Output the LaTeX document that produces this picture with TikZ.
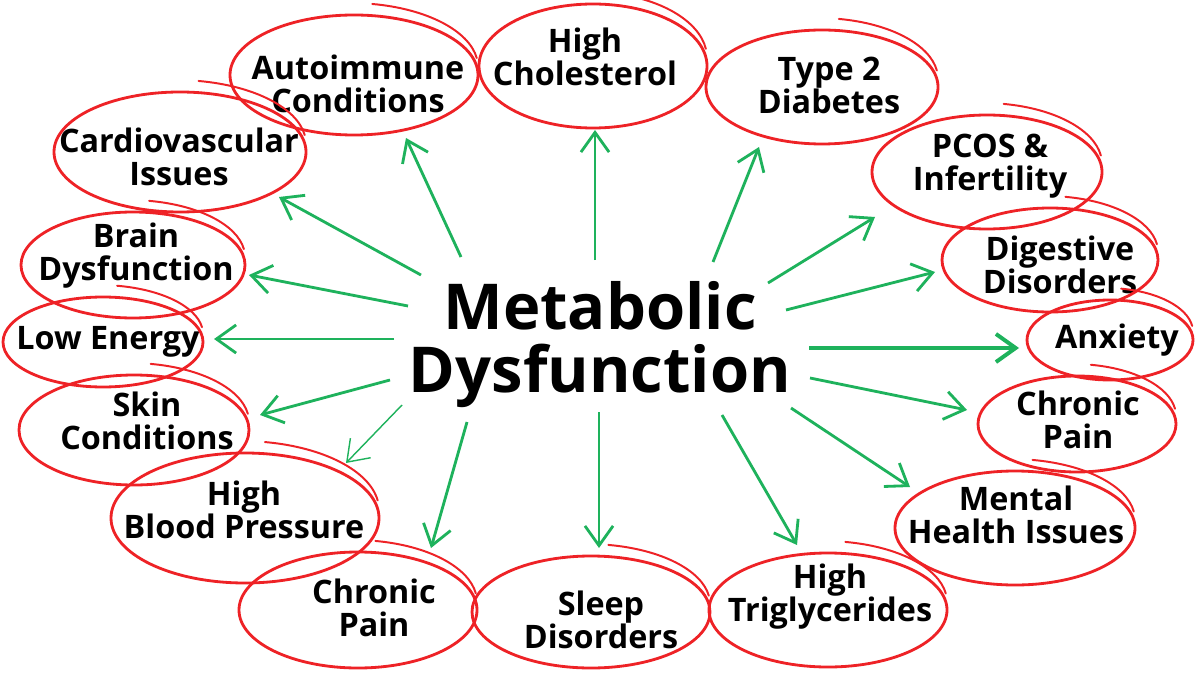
\documentclass[tikz,border=0pt]{standalone}
\usepackage{fontspec}
\setmainfont{Open Sans}
\usetikzlibrary{positioning,arrows.meta,calc}
\definecolor{ringred}{RGB}{238,34,38}
\definecolor{arrgreen}{RGB}{30,178,92}
\tikzset{
  ring/.style={draw=ringred,line width=2pt},
  tail/.style={draw=ringred,line width=1.4pt,line cap=round},
  issue/.style={align=center,inner sep=0pt,font=\bfseries\fontsize{23}{23.5}\selectfont},
  title/.style={align=center,inner sep=0pt,font=\bfseries\fontsize{45}{44.8}\selectfont},
  arrow/.style={-{Straight Barb[length=14pt,width=20pt]},draw=arrgreen,line width=2pt}
}
% red hand drawn ring round a label: node, centre shift, radii
\newcommand{\ringat}[5]{%
  \draw[ring] ($(#1)+(#2,#3)$) ellipse [x radius=#4, y radius=#5];
  \pgfmathsetmacro{\trx}{#4+4}\pgfmathsetmacro{\try}{#5+4}
  \draw[tail] ($(#1)+(#2,#3)+(-4,-8)$) ++({\trx*cos(-80)},{\try*sin(-80)})
    arc [start angle=-80, end angle=-8, x radius=\trx, y radius=\try];
}

\begin{document}
\begin{tikzpicture}[x=0.025cm,y=-0.025cm]
\useasboundingbox[fill=white] (0,0) rectangle (1200,675);

% labels round the ring
\node[issue] (auto) at (358,84) {Autoimmune\\Conditions};
\node[issue] (chol) at (585,57) {High\\Cholesterol};
\node[issue] (t2) at (829,85) {Type 2\\Diabetes};
\node[issue] (pcos) at (990,166) {PCOS \&\\Infertility};
\node[issue] (dig) at (1060,265) {Digestive\\Disorders};
\node[issue] (anx) at (1117,340) {Anxiety};
\node[issue] (cpr) at (1078,420) {Chronic\\Pain};
\node[issue] (ment) at (1016,515) {Mental\\Health Issues};
\node[issue] (trig) at (830,597) {High\\Triglycerides};
\node[issue] (sleep) at (601,620) {Sleep\\Disorders};
\node[issue] (cpl) at (374,608) {Chronic\\Pain};
\node[issue] (hbp) at (244,510) {High\\Blood Pressure};
\node[issue] (skin) at (147,421) {Skin\\Conditions};
\node[issue] (low) at (108,342) {Low Energy};
\node[issue] (brain) at (136,256) {Brain\\Dysfunction};
\node[issue] (cardio) at (179,157) {Cardiovascular\\Issues};

\node[title] (mf) at (600,345) {Metabolic\\Dysfunction};

% rings
\ringat{auto}{-4}{-9}{124}{60}
\ringat{chol}{8}{9}{114}{62}
\ringat{t2}{-7}{2}{116}{57}
\ringat{pcos}{-3}{6}{115}{57}
\ringat{dig}{-10}{-5}{108}{52}
\ringat{anx}{-7}{0}{83}{40}
\ringat{cpr}{-1}{4}{99}{48}
\ringat{ment}{-1}{13}{120}{57}
\ringat{trig}{-2}{13}{119}{57}
\ringat{sleep}{-10}{-8}{119}{56}
\ringat{cpl}{-16}{2}{119}{58}
\ringat{hbp}{1}{8}{134}{65}
\ringat{skin}{-13}{9}{115}{55}
\ringat{low}{-5}{0}{100}{45}
\ringat{brain}{-3}{9}{112}{53}
\ringat{cardio}{1}{-5}{126}{60}

% arrows out of the centre
\foreach \n/\sx/\sy/\tx/\ty in {auto/-139/-88/48/54, cardio/-179/-70/100/40,
    brain/-192/-39/113/19, low/-206/-6/106/-3, skin/-210/35/113/-6,
    cpl/-133/77/57/-60, sleep/-1/67/-2/-72, trig/122/70/-33/-52,
    ment/191/63/-106/-28, cpr/210/33/-111/-10, dig/186/-35/-125/7,
    pcos/168/-62/-115/51, t2/113/-83/-70/62, chol/-5/-85/10/73}
  \draw[arrow] ($(mf)+(\sx,\sy)$) -- ($(\n)+(\tx,\ty)$);
\draw[arrow,line width=1pt] ($(mf)+(-198,60)$) -- ($(hbp)+(102,-47)$);
\draw[arrow,line width=2.8pt] ($(mf)+(209,3)$) -- ($(anx)+(-98,8)$);

\end{tikzpicture}
\end{document}
